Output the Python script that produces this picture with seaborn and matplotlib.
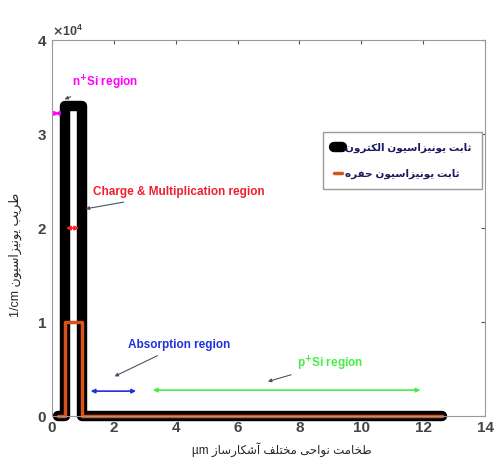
import matplotlib
matplotlib.use('Agg')
import matplotlib.pyplot as plt
import seaborn as sns

# data
x_step = [0.2, 0.42, 0.42, 0.97, 0.97, 12.6]
electron = [0, 0, 33000, 33000, 0, 0]
hole = [0, 0, 10000, 10000, 0, 0]

legend_labels = ['ثابت یونیزاسیون الکترون', 'ثابت یونیزاسیون حفره']
xlabel_fa = 'ضخامت نواحی مختلف آشکارساز'
ylabel_fa = 'ضریب یونیزاسیون'
x_ticks = [0, 2, 4, 6, 8, 10, 12, 14]
y_ticks = [0, 10000, 20000, 30000, 40000]

# contextual forms: isolated, final, initial, medial
FORMS = {
    'ا': ('\uFE8D', '\uFE8E', None, None),
    'آ': ('\uFE81', '\uFE82', None, None),
    'ب': ('\uFE8F', '\uFE90', '\uFE91', '\uFE92'),
    'ت': ('\uFE95', '\uFE96', '\uFE97', '\uFE98'),
    'ث': ('\uFE99', '\uFE9A', '\uFE9B', '\uFE9C'),
    'ح': ('\uFEA1', '\uFEA2', '\uFEA3', '\uFEA4'),
    'خ': ('\uFEA5', '\uFEA6', '\uFEA7', '\uFEA8'),
    'ر': ('\uFEAD', '\uFEAE', None, None),
    'ز': ('\uFEAF', '\uFEB0', None, None),
    'س': ('\uFEB1', '\uFEB2', '\uFEB3', '\uFEB4'),
    'ش': ('\uFEB5', '\uFEB6', '\uFEB7', '\uFEB8'),
    'ض': ('\uFEC1', '\uFEC2', '\uFEC3', '\uFEC4'),
    'ف': ('\uFED1', '\uFED2', '\uFED3', '\uFED4'),
    'ل': ('\uFEDD', '\uFEDE', '\uFEDF', '\uFEE0'),
    'م': ('\uFEE1', '\uFEE2', '\uFEE3', '\uFEE4'),
    'ن': ('\uFEE5', '\uFEE6', '\uFEE7', '\uFEE8'),
    'ه': ('\uFEE9', '\uFEEA', '\uFEEB', '\uFEEC'),
    'و': ('\uFEED', '\uFEEE', None, None),
    'ی': ('\uFBFC', '\uFBFD', '\uFBFE', '\uFBFF'),
    'ک': ('\uFB8E', '\uFB8F', '\uFB90', '\uFB91'),
}


def shape_word(word):
    out = []
    for i, ch in enumerate(word):
        f = FORMS.get(ch)
        if f is None:
            out.append(ch)
            continue
        prev = word[i - 1] if i > 0 else None
        nxt = word[i + 1] if i < len(word) - 1 else None
        jp = prev in FORMS and FORMS[prev][2] is not None
        jn = f[2] is not None and nxt in FORMS
        if jp and jn:
            out.append(f[3])
        elif jp:
            out.append(f[1])
        elif jn:
            out.append(f[2])
        else:
            out.append(f[0])
    return ''.join(reversed(out))


def fa(text):
    # shaped glyphs in visual (left to right) order
    return ' '.join(reversed([shape_word(w) for w in text.split()]))


sns.set_style('white')
plt.rcParams['font.family'] = ['Liberation Sans', 'DejaVu Sans']
plt.rcParams['font.weight'] = 'bold'

fig = plt.figure(figsize=(4.95, 4.66), dpi=100)
ax = fig.add_axes([0.105, 0.107, 0.875, 0.807])

sns.lineplot(x=x_step, y=electron, sort=False, estimator=None, color='black',
             linewidth=7.5, ax=ax, label=fa(legend_labels[0]), clip_on=False,
             solid_joinstyle='round')
sns.lineplot(x=x_step, y=hole, sort=False, estimator=None, color='#d95319',
             linewidth=2.5, ax=ax, label=fa(legend_labels[1]), clip_on=False)

ax.set_xlim(0, 14)
ax.set_ylim(0, 40000)
ax.set_xticks(x_ticks)
ax.set_yticks(y_ticks)
ax.ticklabel_format(axis='y', style='sci', scilimits=(0, 0), useMathText=True)
ax.yaxis.get_offset_text().set_fontsize(9)
ax.yaxis.get_offset_text().set_color('#666666')
ax.tick_params(direction='in', top=True, right=True, length=3, labelsize=11,
               colors='#555555', labelcolor='#444444')
for s in ax.spines.values():
    s.set_color('#999999')
    s.set_linewidth(0.8)

ax.set_xlabel('µm ' + fa(xlabel_fa), fontsize=8.5)
ax.xaxis.set_label_coords(0.53, -0.07)
ax.set_ylabel('1/cm ' + fa(ylabel_fa), fontsize=9)
ax.yaxis.set_label_coords(-0.07, 0.43)

# region markers
def span(x0, x1, y, c):
    ax.annotate('', xy=(x1, y), xytext=(x0, y),
                arrowprops=dict(arrowstyle='<|-|>', color=c, lw=1.2, mutation_scale=6))

def label(text, xy, xytext, c):
    ax.annotate(text, xy=xy, xytext=xytext, color=c, fontsize=8.5, fontweight='bold',
                va='center', ha='left',
                arrowprops=dict(arrowstyle='-|>', color='#445566', lw=0.8, mutation_scale=5))

span(0.0, 0.32, 32200, '#ff00ff')
label('n$^{+}$Si region', (0.32, 33600), (0.65, 35400), '#ff00ff')
span(0.36, 0.97, 20000, '#ff2020')
label('Charge & Multiplication region', (1.0, 22000), (1.33, 23800), '#ee2030')
span(1.16, 2.81, 2660, '#2030dd')
label('Absorption region', (1.94, 4100), (2.46, 7550), '#2030dd')
span(3.17, 12.0, 2770, '#44ee44')
label('p$^{+}$Si region', (6.89, 3600), (7.92, 5600), '#44ee44')

leg = ax.legend(loc='upper left', bbox_to_anchor=(0.626, 0.755), borderaxespad=0,
                fancybox=False, framealpha=1, edgecolor='#999999', handlelength=0.8,
                handletextpad=0.3, fontsize=7.5, labelcolor='#1a1a5e', labelspacing=1.5,
                borderpad=1.0)
for t in leg.get_texts():
    t.set_fontweight('bold')

fig.savefig('out.png', dpi=100)
